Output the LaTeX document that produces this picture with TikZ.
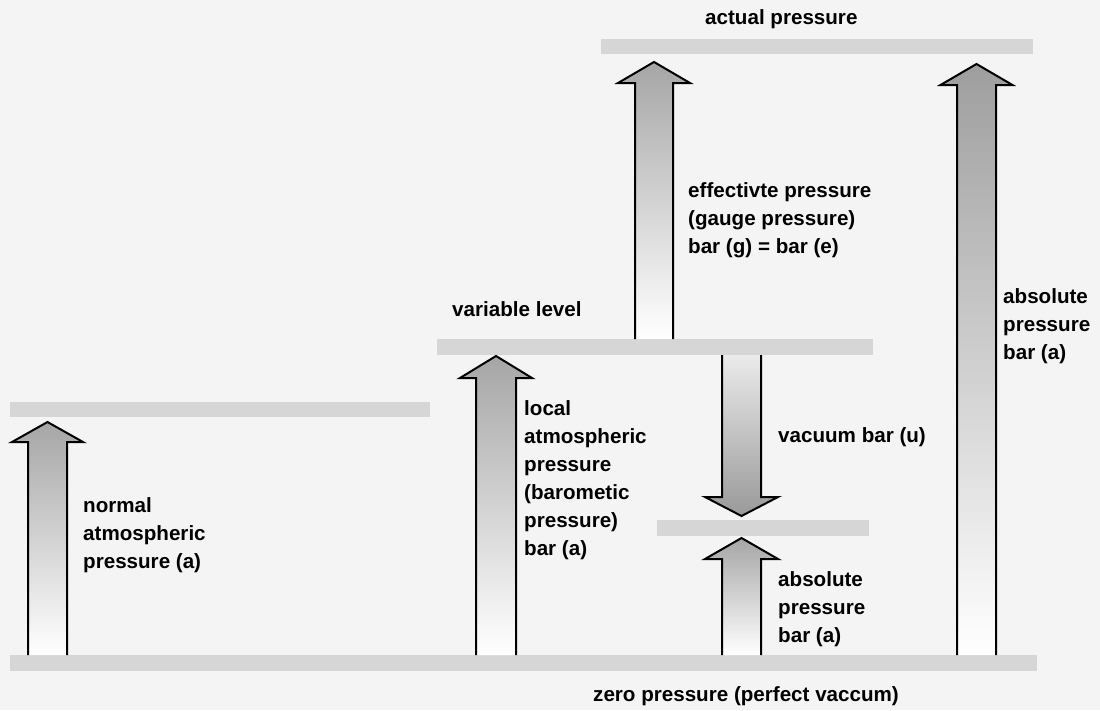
\documentclass[tikz,border=0pt]{standalone}
\usepackage{fontspec}
\setmainfont{Liberation Sans}
\definecolor{bgc}{HTML}{F4F4F4}
\definecolor{barc}{HTML}{D6D6D6}
\newcommand\myuparrow[7]{%
  % #1 cx, #2 half shaft, #3 half head, #4 tip y, #5 head base y, #6 bottom y, #7 top colour
  \shade[top color=#7, bottom color=white]
    ({#1-#2},#6) -- ({#1-#2},#5) -- ({#1-#3},#5) -- (#1,#4) -- ({#1+#3},#5) -- ({#1+#2},#5) -- ({#1+#2},#6) -- cycle;
  \draw[arrline]
    ({#1-#2},#6) -- ({#1-#2},#5) -- ({#1-#3},#5) -- (#1,#4) -- ({#1+#3},#5) -- ({#1+#2},#5) -- ({#1+#2},#6);
}
\newcommand\mydownarrow[6]{%
  % #1 cx, #2 half shaft, #3 half head, #4 top y, #5 head base y, #6 tip y
  \shade[top color=black!8, bottom color=black!40]
    ({#1-#2},#4) -- ({#1-#2},#5) -- ({#1-#3},#5) -- (#1,#6) -- ({#1+#3},#5) -- ({#1+#2},#5) -- ({#1+#2},#4) -- cycle;
  \draw[arrline]
    ({#1-#2},#4) -- ({#1-#2},#5) -- ({#1-#3},#5) -- (#1,#6) -- ({#1+#3},#5) -- ({#1+#2},#5) -- ({#1+#2},#4);
}
\begin{document}
\begin{tikzpicture}[x=1pt,y=-1pt,
  arrline/.style={draw=black,line width=2pt,line join=miter},
  lbl/.style={anchor=base west,inner sep=0pt,align=left,font=\fontsize{20.6}{28}\selectfont\bfseries}]
\fill[bgc] (0,0) rectangle (1100,710);
\useasboundingbox (0,0) rectangle (1100,710);
% level bars
\fill[barc] (10,655) rectangle (1037,671);
\fill[barc] (10,402) rectangle (430,417);
\fill[barc] (437,339) rectangle (873,355);
\fill[barc] (657,520) rectangle (869,536);
\fill[barc] (601,39) rectangle (1033,54);
% arrows
\myuparrow{47.5}{19.5}{35.5}{422}{442}{655}{black!35}
\myuparrow{496}{20}{36}{356}{378}{655}{black!35}
\mydownarrow{741.5}{19.5}{36.5}{355}{497}{516}
\myuparrow{741.5}{19.5}{36.5}{538}{559}{655}{black!35}
\myuparrow{654}{19}{36}{62}{83}{339}{black!35}
\myuparrow{976.5}{19.5}{36}{64}{85}{655}{black!38}
% labels (multi-line labels are anchored at the baseline of their last line)
\node[lbl] (tact) at (705,24) {actual pressure};
\node[lbl] (tvar) at (452,316) {variable level};
\node[lbl] (tzero) at (593,701) {zero pressure (perfect vaccum)};
\node[lbl] (tnorm) at (83,568) {normal\\atmospheric\\pressure (a)};
\node[lbl] (tloc) at (524,555) {local\\atmospheric\\pressure\\(barometic\\pressure)\\bar (a)};
\node[lbl] (tvac) at (778,442) {vacuum bar (u)};
\node[lbl] (tabs1) at (778,642) {absolute\\pressure\\bar (a)};
\node[lbl] (teff) at (688,253) {effectivte pressure\\(gauge pressure)\\bar (g) = bar (e)};
\node[lbl] (tabs2) at (1003,359) {absolute\\pressure\\bar (a)};
\end{tikzpicture}
\end{document}
